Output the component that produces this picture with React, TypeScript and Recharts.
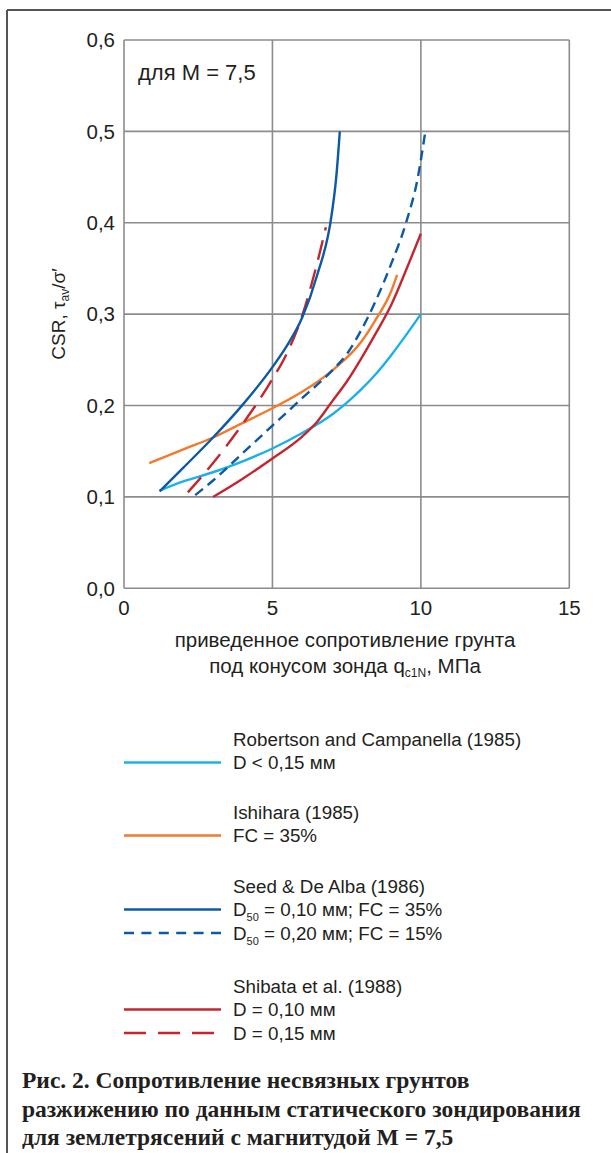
import React from 'react';
import { LineChart, Line, XAxis, YAxis, CartesianGrid } from 'recharts';

// CSR vs normalized cone resistance qc1N (MPa), pairs of [qc1N, CSR]
const robertson: number[][] = [
  [1.2, 0.107], [2, 0.117], [3, 0.127], [4, 0.139], [5, 0.153], [6, 0.170],
  [7, 0.190], [7.5, 0.203], [8, 0.218], [8.5, 0.235], [9, 0.255], [9.5, 0.277], [10, 0.3],
];
const ishihara: number[][] = [
  [0.85, 0.137], [2, 0.152], [3, 0.165], [4, 0.181], [5, 0.197], [6, 0.215],
  [7, 0.238], [8, 0.27], [8.5, 0.295], [9, 0.325], [9.2, 0.343],
];
const seedFine: number[][] = [
  [1.2, 0.106], [2, 0.132], [3, 0.165], [4, 0.201], [5, 0.242], [5.5, 0.266],
  [6, 0.296], [6.5, 0.342], [7, 0.41], [7.15, 0.45], [7.27, 0.5],
];
const seedCoarse: number[][] = [
  [2.4, 0.102], [3, 0.118], [4, 0.148], [5, 0.178], [6, 0.208], [7, 0.238],
  [7.5, 0.256], [8, 0.283], [8.5, 0.316], [9, 0.355], [9.5, 0.4], [9.9, 0.45], [10.15, 0.5],
];
const shibataFine: number[][] = [
  [3, 0.1], [4, 0.12], [5, 0.142], [6, 0.166], [6.5, 0.182], [7, 0.204],
  [7.5, 0.226], [8, 0.252], [8.5, 0.28], [9, 0.31], [9.5, 0.348], [10, 0.388],
];
const shibataCoarse: number[][] = [
  [2.15, 0.105], [3, 0.137], [4, 0.18], [5, 0.229], [5.5, 0.258], [6, 0.298],
  [6.5, 0.355], [6.8, 0.395],
];

const xTicks = [0, 5, 10, 15];
const yTicks = [0, 0.1, 0.2, 0.3, 0.4, 0.5, 0.6];

const CYAN = '#1cb0ea';
const ORANGE = '#f37a2b';
const NAVY = '#0c59a6';
const RED = '#c3262f';
const TEXT = '#231f20';

const toPoints = (arr: number[][]) => arr.map(([x, y]) => ({ x, y }));

const series = [
  { key: 'robertson', data: robertson, color: CYAN, dash: undefined },
  { key: 'ishihara', data: ishihara, color: ORANGE, dash: undefined },
  { key: 'shibataFine', data: shibataFine, color: RED, dash: undefined },
  { key: 'seedCoarse', data: seedCoarse, color: NAVY, dash: '10 6' },
  { key: 'shibataCoarse', data: shibataCoarse, color: RED, dash: '20 10' },
  { key: 'seedFine', data: seedFine, color: NAVY, dash: undefined },
];

const fmt = (v: number) => v.toFixed(1).replace('.', ',');

// legend groups: title + rows (color, dash, label, optional subscript)
const legendGroups = [
  { title: 'Robertson and Campanella (1985)', y: 746, rows: [{ color: CYAN, dash: undefined, pre: 'D < 0,15 мм', sub: '', post: '' }] },
  { title: 'Ishihara (1985)', y: 819, rows: [{ color: ORANGE, dash: undefined, pre: 'FC = 35%', sub: '', post: '' }] },
  {
    title: 'Seed & De Alba (1986)', y: 893, rows: [
      { color: NAVY, dash: undefined, pre: 'D', sub: '50', post: ' = 0,10 мм; FC = 35%' },
      { color: NAVY, dash: '10 7.4', pre: 'D', sub: '50', post: ' = 0,20 мм; FC = 15%' },
    ],
  },
  {
    title: 'Shibata et al. (1988)', y: 993, rows: [
      { color: RED, dash: undefined, pre: 'D = 0,10 мм', sub: '', post: '' },
      { color: RED, dash: '22 12', pre: 'D = 0,15 мм', sub: '', post: '' },
    ],
  },
];

const captionLines = [
  'Рис. 2. Сопротивление несвязных грунтов',
  'разжижению по данным статического зондирования',
  'для землетрясений с магнитудой М = 7,5',
];

const font = '"Liberation Sans", Arial, sans-serif';

const App: React.FC = () => {
  return (
    <div style={{ position: 'absolute', left: 0, top: 0, width: 611, height: 1153, background: '#fff', fontFamily: font }}>
      <div style={{ position: 'absolute', left: 0, top: 0 }}>
        <LineChart
          width={611}
          height={700}
          margin={{ top: 40, right: 41.7, left: 0, bottom: 81.7 }}
        >
          <CartesianGrid stroke="#8c8c8c" strokeWidth={1.6} />
          <XAxis
            type="number"
            dataKey="x"
            domain={[0, 15]}
            ticks={xTicks}
            axisLine={false}
            tickLine={false}
            tickMargin={6}
            height={30}
            tick={{ fill: TEXT, fontSize: 20.5, fontFamily: font }}
            allowDuplicatedCategory={false}
          />
          <YAxis
            type="number"
            dataKey="y"
            domain={[0, 0.6]}
            ticks={yTicks}
            width={124}
            axisLine={false}
            tickLine={false}
            tickMargin={3}
            tickFormatter={fmt}
            tick={{ fill: TEXT, fontSize: 20.5, fontFamily: font }}
          />
          {series.map((s) => (
            <Line
              key={s.key}
              data={toPoints(s.data)}
              dataKey="y"
              type="monotone"
              stroke={s.color}
              strokeWidth={2.4}
              strokeDasharray={s.dash}
              dot={false}
              isAnimationActive={false}
            />
          ))}
        </LineChart>
      </div>

      <svg width={611} height={1153} style={{ position: 'absolute', left: 0, top: 0, pointerEvents: 'none' }}>
        {/* outer frame: top and left edges */}
        <line x1={7} y1={10} x2={611} y2={10} stroke="#555" strokeWidth={2} />
        <line x1={7} y1={10} x2={7} y2={1153} stroke="#555" strokeWidth={2} />

        <text x={138} y={80} fontSize={22} fill={TEXT} fontFamily={font}>для М = 7,5</text>

        <text x={65} y={314} fontSize={19} fill={TEXT} fontFamily={font} textAnchor="middle" transform="rotate(-90 65 314)">
          CSR, τ<tspan fontSize={12} dy={4}>av</tspan><tspan dy={-4}>/σ′</tspan>
        </text>

        <text x={345} y={647} fontSize={20.5} fill={TEXT} fontFamily={font} textAnchor="middle">
          приведенное сопротивление грунта
        </text>
        <text x={345} y={673} fontSize={20.5} fill={TEXT} fontFamily={font} textAnchor="middle">
          под конусом зонда q<tspan fontSize={12} dy={4}>c1N</tspan><tspan dy={-4}>, МПа</tspan>
        </text>

        {legendGroups.map((g) => (
          <g key={g.title}>
            <text x={233} y={g.y} fontSize={18.8} fill={TEXT} fontFamily={font}>{g.title}</text>
            {g.rows.map((r, i) => {
              const cy = g.y + 23 + i * 23.5;
              return (
                <g key={i}>
                  <line x1={124} x2={221} y1={cy - 6.5} y2={cy - 6.5} stroke={r.color} strokeWidth={2.4} strokeDasharray={r.dash} />
                  <text x={233} y={cy} fontSize={18.8} fill={TEXT} fontFamily={font}>
                    {r.pre}
                    {r.sub ? <tspan fontSize={11} dy={5}>{r.sub}</tspan> : null}
                    {r.sub ? <tspan dy={-5}>{r.post}</tspan> : null}
                  </text>
                </g>
              );
            })}
          </g>
        ))}

        {captionLines.map((t, i) => (
          <text key={i} x={22} y={1088 + i * 28.5} fontSize={23.5} fontWeight="bold" fill={TEXT} fontFamily='"Liberation Serif", "Times New Roman", serif'>
            {t}
          </text>
        ))}
      </svg>
    </div>
  );
};

export default App;
